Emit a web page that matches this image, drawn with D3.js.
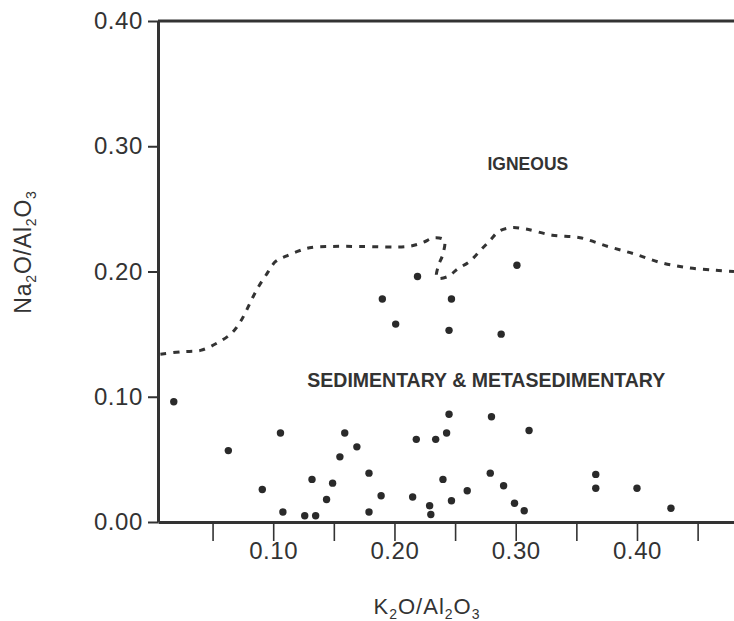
<!DOCTYPE html>
<html>
<head>
<meta charset="utf-8">
<script src="https://cdn.jsdelivr.net/npm/d3@7"></script>
<style>
  body { margin: 0; background: #fff; }
  text { font-family: "Liberation Sans", Arial, sans-serif; fill: #333; }
</style>
</head>
<body>
<script>
// sample points, K2O/Al2O3 (x) against Na2O/Al2O3 (y)
var kAl = [0.018, 0.063, 0.106, 0.091, 0.108, 0.126, 0.135, 0.132, 0.144, 0.149,
  0.155, 0.159, 0.169, 0.179, 0.179, 0.189, 0.215, 0.218, 0.229, 0.230,
  0.234, 0.240, 0.243, 0.245, 0.247, 0.260, 0.279, 0.280, 0.290, 0.299,
  0.307, 0.311, 0.366, 0.366, 0.400, 0.428,
  0.190, 0.201, 0.219, 0.247, 0.245, 0.288, 0.301];
var naAl = [0.096, 0.057, 0.071, 0.026, 0.008, 0.005, 0.005, 0.034, 0.018, 0.031,
  0.052, 0.071, 0.060, 0.039, 0.008, 0.021, 0.020, 0.066, 0.013, 0.006,
  0.066, 0.034, 0.071, 0.086, 0.017, 0.025, 0.039, 0.084, 0.029, 0.015,
  0.009, 0.073, 0.038, 0.027, 0.027, 0.011,
  0.178, 0.158, 0.196, 0.178, 0.153, 0.150, 0.205];

// dashed boundary between igneous and sedimentary fields
var lineK = [0.007, 0.025, 0.040, 0.054, 0.066, 0.073, 0.078, 0.083, 0.088, 0.094,
  0.102, 0.110, 0.120, 0.130, 0.147, 0.172, 0.211, 0.223, 0.233, 0.241,
  0.240, 0.236, 0.235, 0.244, 0.252, 0.262, 0.271, 0.279, 0.286, 0.296,
  0.308, 0.330, 0.353, 0.376, 0.398, 0.420, 0.442, 0.465, 0.480];
var lineNa = [0.134, 0.136, 0.137, 0.143, 0.151, 0.160, 0.169, 0.179, 0.188, 0.197,
  0.208, 0.212, 0.216, 0.219, 0.220, 0.220, 0.220, 0.223, 0.227, 0.225,
  0.214, 0.204, 0.195, 0.196, 0.202, 0.208, 0.217, 0.225, 0.232, 0.235,
  0.234, 0.229, 0.227, 0.220, 0.214, 0.207, 0.203, 0.201, 0.200];

var xTicks = [0.05, 0.10, 0.15, 0.20, 0.25, 0.30, 0.35, 0.40, 0.45];
var xLabels = [0.10, 0.20, 0.30, 0.40];
var yTicks = [0.00, 0.10, 0.20, 0.30, 0.40];

var svgWidth = 734;
var svgHeight = 621;

var margin = {
  top: 21,
  right: 0,
  bottom: 99,
  left: 158
};

var width = svgWidth - margin.left - margin.right;
var height = svgHeight - margin.top - margin.bottom;

var svg = d3.select("body")
  .append("svg")
  .attr("width", svgWidth)
  .attr("height", svgHeight);

svg.append("rect")
  .attr("width", svgWidth)
  .attr("height", svgHeight)
  .attr("fill", "#fff");

var chartGroup = svg.append("g")
  .attr("transform", `translate(${margin.left}, ${margin.top})`);

var xLinearScale = d3.scaleLinear()
  .domain([0.005, 0.48])
  .range([0, width]);

var yLinearScale = d3.scaleLinear()
  .domain([0, 0.40])
  .range([height, 0]);

var fmt = d3.format(".2f");

var bottomAxis = d3.axisBottom(xLinearScale)
  .tickValues(xTicks)
  .tickSize(19)
  .tickSizeOuter(0)
  .tickPadding(1)
  .tickFormat(d => xLabels.some(v => Math.abs(v - d) < 1e-9) ? fmt(d) : "");

var leftAxis = d3.axisLeft(yLinearScale)
  .tickValues(yTicks)
  .tickSize(10)
  .tickSizeOuter(0)
  .tickPadding(5)
  .tickFormat(fmt);

var xAxisG = chartGroup.append("g")
  .attr("transform", `translate(0, ${height})`)
  .call(bottomAxis);

var yAxisG = chartGroup.append("g")
  .call(leftAxis);

xAxisG.select(".domain").attr("stroke", "#333").attr("stroke-width", 3);
yAxisG.select(".domain").attr("stroke", "#333").attr("stroke-width", 3);
xAxisG.selectAll(".tick line").attr("stroke", "#333").attr("stroke-width", 1.6);
yAxisG.selectAll(".tick line").attr("stroke", "#333").attr("stroke-width", 2);
xAxisG.selectAll(".tick text")
  .attr("font-size", "24px")
  .attr("letter-spacing", "0.6px")
  .attr("fill", "#333")
  .attr("font-family", "Liberation Sans, Arial, sans-serif");
yAxisG.selectAll(".tick text")
  .attr("font-size", "24px")
  .attr("letter-spacing", "0.6px")
  .attr("fill", "#333")
  .attr("font-family", "Liberation Sans, Arial, sans-serif");

// top frame line
chartGroup.append("line")
  .attr("x1", 0)
  .attr("x2", width)
  .attr("y1", yLinearScale(0.40))
  .attr("y2", yLinearScale(0.40))
  .attr("stroke", "#333")
  .attr("stroke-width", 3);

// boundary
var boundary = d3.line()
  .x((d, i) => xLinearScale(lineK[i]))
  .y((d, i) => yLinearScale(lineNa[i]))
  .curve(d3.curveCatmullRom.alpha(0.5));

chartGroup.append("path")
  .attr("d", boundary(lineK))
  .attr("fill", "none")
  .attr("stroke", "#333")
  .attr("stroke-width", 3)
  .attr("stroke-dasharray", "6,7");

// points
chartGroup.selectAll("circle")
  .data(kAl)
  .enter()
  .append("circle")
  .attr("cx", d => xLinearScale(d))
  .attr("cy", (d, i) => yLinearScale(naAl[i]))
  .attr("r", 3.7)
  .attr("fill", "#2a2a2a");

// field labels
chartGroup.append("text")
  .attr("x", xLinearScale(0.310))
  .attr("y", yLinearScale(0.281))
  .attr("text-anchor", "middle")
  .attr("font-size", "17.5px")
  .attr("font-weight", "bold")
  .text("IGNEOUS");

chartGroup.append("text")
  .attr("x", xLinearScale(0.2757))
  .attr("y", yLinearScale(0.1075))
  .attr("text-anchor", "middle")
  .attr("font-size", "19.5px")
  .attr("font-weight", "bold")
  .text("SEDIMENTARY & METASEDIMENTARY");

// axis titles
function chemLabel(sel, parts) {
  parts.forEach(function(p) {
    if (p.sub) {
      sel.append("tspan").attr("font-size", "14px").attr("dy", 5).text(p.t);
    } else {
      sel.append("tspan").attr("dy", p.after ? -5 : 0).text(p.t);
    }
  });
}

var xTitle = svg.append("text")
  .attr("x", 427)
  .attr("y", 614)
  .attr("text-anchor", "middle")
  .attr("font-size", "22px")
  .attr("letter-spacing", "1px");
chemLabel(xTitle, [{t: "K"}, {t: "2", sub: true}, {t: "O/Al", after: true},
  {t: "2", sub: true}, {t: "O", after: true}, {t: "3", sub: true}]);

var yTitle = svg.append("text")
  .attr("transform", "translate(31, 252) rotate(-90)")
  .attr("text-anchor", "middle")
  .attr("font-size", "23px")
  .attr("letter-spacing", "0.8px");
chemLabel(yTitle, [{t: "Na"}, {t: "2", sub: true}, {t: "O/Al", after: true},
  {t: "2", sub: true}, {t: "O", after: true}, {t: "3", sub: true}]);
</script>
</body>
</html>
